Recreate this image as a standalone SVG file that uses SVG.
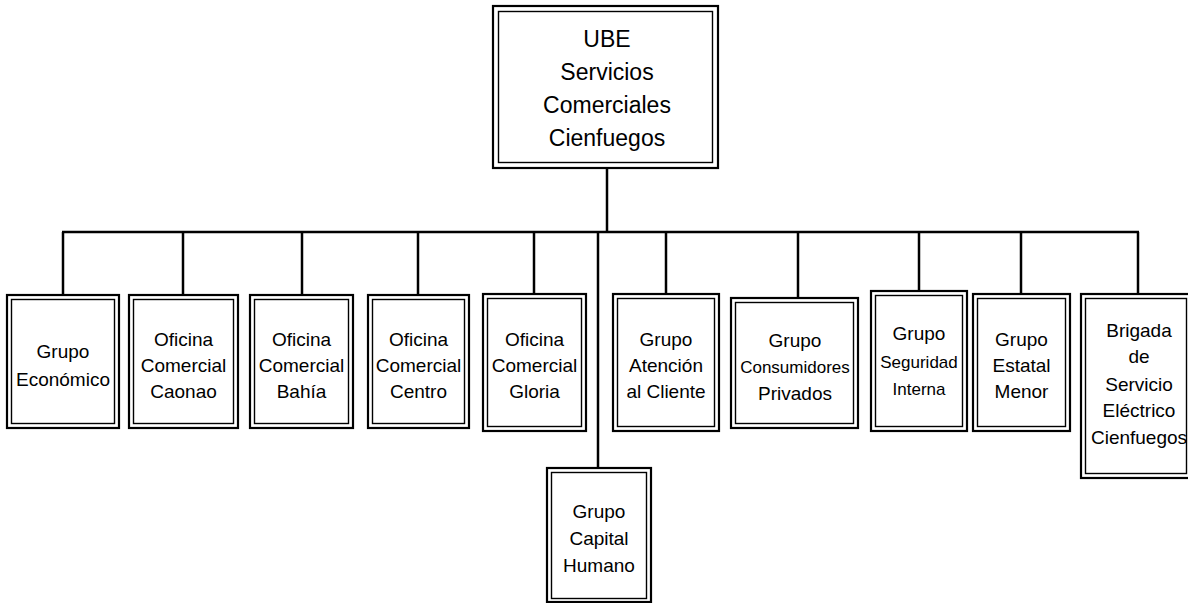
<svg xmlns="http://www.w3.org/2000/svg" width="1188" height="603" viewBox="0 0 1188 603">
<style>
.o{fill:#fff;stroke:#000;stroke-width:2.2}
.i{fill:none;stroke:#000;stroke-width:1.4}
.c{stroke:#000;stroke-width:2.5;fill:none}
text{font-family:"Liberation Sans",Arial,sans-serif;font-size:19px;text-anchor:middle;fill:#000}
.t{font-size:23px}
.s{font-size:17px}
</style>
<rect width="1188" height="603" fill="#fff"/>
<g id="connectors">
<line class="c" x1="607" y1="168" x2="607" y2="232"/>
<line class="c" x1="62" y1="232" x2="1139" y2="232"/>
<line class="c" x1="63" y1="232" x2="63" y2="295"/>
<line class="c" x1="183" y1="232" x2="183" y2="295"/>
<line class="c" x1="302" y1="232" x2="302" y2="295"/>
<line class="c" x1="418" y1="232" x2="418" y2="295"/>
<line class="c" x1="534" y1="232" x2="534" y2="294"/>
<line class="c" x1="598" y1="232" x2="598" y2="468"/>
<line class="c" x1="666" y1="232" x2="666" y2="294"/>
<line class="c" x1="798" y1="232" x2="798" y2="298"/>
<line class="c" x1="919" y1="232" x2="919" y2="291"/>
<line class="c" x1="1021" y1="232" x2="1021" y2="294"/>
<line class="c" x1="1138" y1="232" x2="1138" y2="294"/>
</g>
<g id="ube">
<rect class="o" x="493" y="6" width="225" height="162"/>
<rect class="i" x="498.5" y="11.5" width="214" height="151"/>
<text class="t" x="607" y="47">UBE</text>
<text class="t" x="607" y="80">Servicios</text>
<text class="t" x="607" y="113">Comerciales</text>
<text class="t" x="607" y="146">Cienfuegos</text>
</g>
<g id="economico">
<rect class="o" x="7" y="295" width="112" height="133"/>
<rect class="i" x="11.5" y="299.5" width="103" height="124"/>
<text x="63" y="358">Grupo</text>
<text x="63" y="386">Económico</text>
</g>
<g id="caonao">
<rect class="o" x="129" y="295" width="109" height="133"/>
<rect class="i" x="133.5" y="299.5" width="100" height="124"/>
<text x="183.5" y="346">Oficina</text>
<text x="183.5" y="372">Comercial</text>
<text x="183.5" y="398">Caonao</text>
</g>
<g id="bahia">
<rect class="o" x="250" y="295" width="103" height="133"/>
<rect class="i" x="254.5" y="299.5" width="94" height="124"/>
<text x="301.5" y="346">Oficina</text>
<text x="301.5" y="372">Comercial</text>
<text x="301.5" y="398">Bahía</text>
</g>
<g id="centro">
<rect class="o" x="368" y="295" width="101" height="133"/>
<rect class="i" x="372.5" y="299.5" width="92" height="124"/>
<text x="418.5" y="346">Oficina</text>
<text x="418.5" y="372">Comercial</text>
<text x="418.5" y="398">Centro</text>
</g>
<g id="gloria">
<rect class="o" x="483" y="294" width="103" height="137"/>
<rect class="i" x="487.5" y="298.5" width="94" height="128"/>
<text x="534.5" y="346">Oficina</text>
<text x="534.5" y="372">Comercial</text>
<text x="534.5" y="398">Gloria</text>
</g>
<g id="atencion">
<rect class="o" x="613" y="294" width="106" height="137"/>
<rect class="i" x="617.5" y="298.5" width="97" height="128"/>
<text x="666" y="346">Grupo</text>
<text x="666" y="372">Atención</text>
<text x="666" y="398">al Cliente</text>
</g>
<g id="capital">
<rect class="o" x="547" y="468" width="104" height="134"/>
<rect class="i" x="551.5" y="472.5" width="95" height="126"/>
<text x="599" y="518">Grupo</text>
<text x="599" y="545">Capital</text>
<text x="599" y="572">Humano</text>
</g>
<g id="consumidores">
<rect class="o" x="731" y="298" width="127" height="130"/>
<rect class="i" x="735.5" y="302.5" width="118" height="121"/>
<text x="795" y="347">Grupo</text>
<text class="s" x="795" y="373">Consumidores</text>
<text x="795" y="400">Privados</text>
</g>
<g id="seguridad">
<rect class="o" x="871" y="291" width="96" height="140"/>
<rect class="i" x="875.5" y="295.5" width="87" height="131"/>
<text x="919" y="340">Grupo</text>
<text class="s" x="919" y="368">Seguridad</text>
<text class="s" x="919" y="395">Interna</text>
</g>
<g id="estatal">
<rect class="o" x="973" y="294" width="97" height="137"/>
<rect class="i" x="977.5" y="298.5" width="88" height="128"/>
<text x="1021.5" y="346">Grupo</text>
<text x="1021.5" y="372">Estatal</text>
<text x="1021.5" y="398">Menor</text>
</g>
<g id="brigada">
<rect class="o" x="1081" y="294" width="112" height="184"/>
<rect class="i" x="1085.5" y="298.5" width="101" height="175"/>
<text x="1139" y="337">Brigada</text>
<text x="1139" y="363">de</text>
<text x="1139" y="391">Servicio</text>
<text x="1139" y="417">Eléctrico</text>
<text x="1139" y="444">Cienfuegos</text>
</g>
</svg>
